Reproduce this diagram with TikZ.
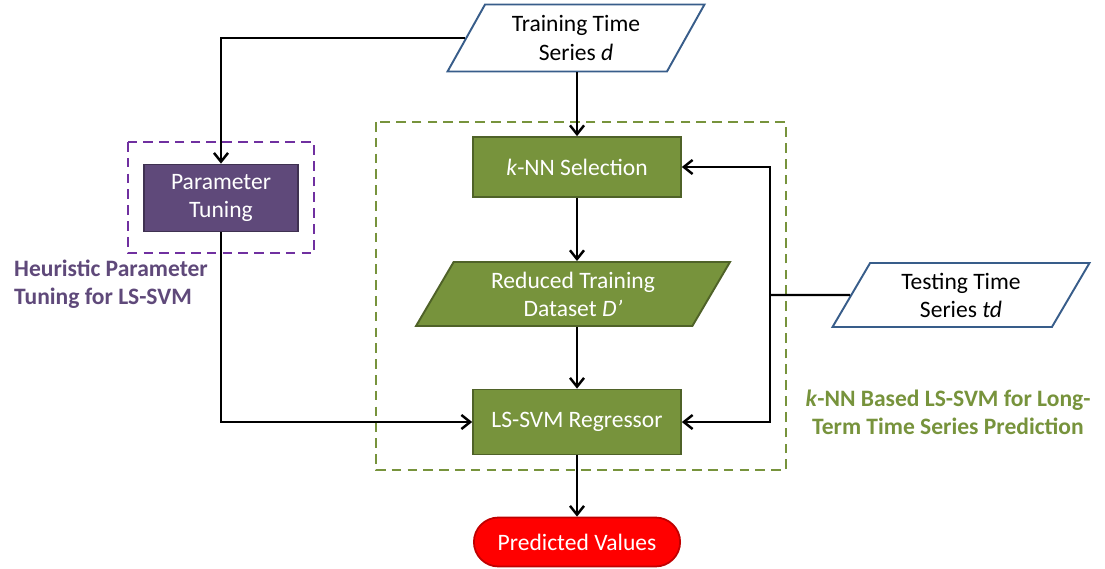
\documentclass[tikz,border=0pt]{standalone}
\usepackage{fontspec}
\setmainfont{Carlito}
\usetikzlibrary{arrows.meta,shapes.geometric,shapes.misc}
\definecolor{knngreen}{RGB}{119,147,60}
\definecolor{knnborder}{RGB}{79,98,40}
\definecolor{hpurple}{RGB}{95,73,122}
\definecolor{hborder}{RGB}{63,49,81}
\definecolor{hdash}{RGB}{112,48,160}
\definecolor{ioblue}{RGB}{56,93,138}
\definecolor{outred}{RGB}{255,0,0}
\definecolor{outborder}{RGB}{192,0,0}

\begin{document}
\begin{tikzpicture}[x=0.02cm, y=-0.02cm,
    every node/.style={font=\fontsize{13.4}{16}\selectfont},
    proc/.style={draw=knnborder, fill=knngreen, text=white, line width=1pt, minimum width=4.16cm, align=center},
    io/.style={trapezium, trapezium left angle=52, trapezium right angle=128, trapezium stretches body, draw=ioblue, fill=white, line width=1.1pt, align=center, inner sep=1pt},
    arr/.style={line width=1.4pt, -{Straight Barb[length=5pt, width=8pt]}},
    conn/.style={line width=1.4pt},
    grpbox/.style={line width=1.2pt, dash pattern=on 5.5pt off 3.5pt}
  ]
  \useasboundingbox (0,0) rectangle (1105,568);

  % group frames
  \draw[grpbox, draw=knngreen] (376,122) rectangle (786,470);
  \draw[grpbox, draw=hdash] (128,142) rectangle (314,253);

  % inputs
  \node[io, minimum width=5.14cm, minimum height=1.34cm] (train) at (576,38) {Training Time\\Series \textit{d}};
  \node[io, minimum width=5.14cm, minimum height=1.28cm] (test) at (961,295) {Testing Time\\Series \textit{td}};

  % k-NN based LS-SVM
  \node[proc, minimum height=1.2cm] (knn) at (577,167) {\textit{k}-NN Selection};
  \node[io, draw=knnborder, fill=knngreen, text=white, minimum width=6.28cm, minimum height=1.28cm] (reduced) at (573,294) {Reduced Training\\Dataset \textit{D’}};
  \node[proc, minimum height=1.3cm] (svm) at (577,422) {LS-SVM Regressor};

  % parameter tuning
  \node[proc, draw=hborder, fill=hpurple, minimum width=3.08cm, minimum height=1.34cm] (param) at (221,198) {Parameter\\Tuning};

  % output
  \node[rounded rectangle, draw=outborder, fill=outred, text=white, line width=1pt, minimum width=4.36cm, minimum height=0.98cm] (out) at (577,542) {Predicted Values};

  % labels
  \node[anchor=west, align=left, text=hpurple, font=\fontsize{13.4}{16}\selectfont\bfseries] (hlabel) at (8,284) {Heuristic Parameter\\Tuning for LS-SVM};
  \node[align=center, text=knngreen, font=\fontsize{13.4}{16}\selectfont\bfseries] (klabel) at (948,412) {\textit{k}-NN Based LS-SVM for Long-\\Term Time Series Prediction};

  % connectors
  \coordinate (tjoin) at (770,295);
  \draw[arr] (train.south -| knn.north) -- (knn.north);
  \draw[arr] (knn.south) -- (knn.south |- reduced.north);
  \draw[arr] (reduced.south -| svm.north) -- (svm.north);
  \draw[arr] (svm.south) -- (out.north);
  \draw[arr] (train.west) -| (param.north);
  \draw[arr] (param.south) |- (svm.west);
  \draw[conn] (test.west) -- (tjoin);
  \draw[arr] (tjoin) |- (knn.east);
  \draw[arr] (tjoin) |- (svm.east);
\end{tikzpicture}
\end{document}
